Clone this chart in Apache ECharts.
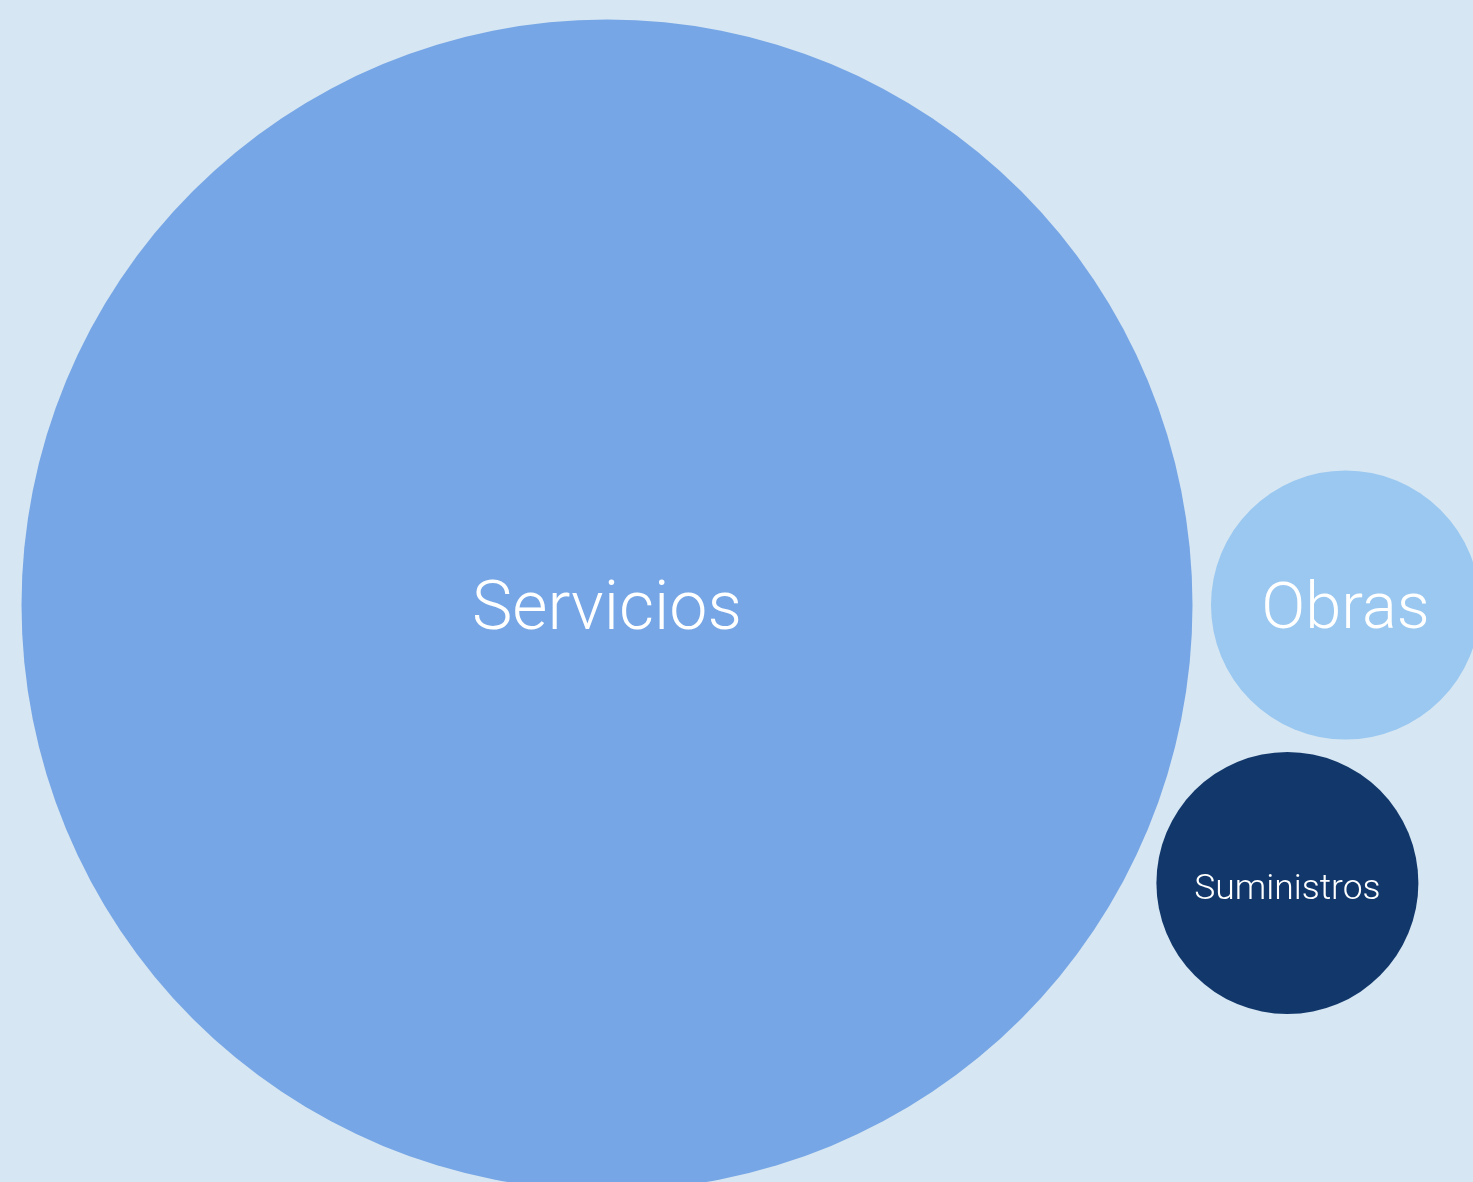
<!DOCTYPE html>
<html>
<head>
<meta charset="utf-8">
<style>
html,body{margin:0;padding:0;background:#d6e6f3;}
#chart{width:1473px;height:1182px;}
</style>
<script src="https://cdn.jsdelivr.net/npm/echarts@6/dist/echarts.min.js"></script>
</head>
<body>
<div id="chart"></div>
<script>
// Data
const categories = ['Servicios', 'Obras', 'Suministros'];
const values = [342.8, 18.09, 17.16];
const colors = ['#76a6e5', '#9ac8f0', '#12386b'];
const labelSizes = [68, 65, 35.5];

// Layout parameters (not data)
const PAD = 18.5;
const CENTER0 = [607, 605];
const K = 585.5 / Math.sqrt(values[0]);
const TEXT_DY = 7;

// Simple front-chain packing of three circles, computed from values
const radii = values.map(v => K * Math.sqrt(v));
function packPositions() {
  const [rA, rB, rC] = radii;
  const A = CENTER0.slice();
  const dAB = rA + rB + PAD;
  const B = [A[0] + dAB, A[1]];
  const dAC = rA + rC + PAD, dBC = rB + rC + PAD;
  const x = (dAB * dAB + dAC * dAC - dBC * dBC) / (2 * dAB);
  const y = Math.sqrt(Math.max(0, dAC * dAC - x * x));
  const C = [A[0] + x, A[1] + y];
  return [A, B, C];
}
const positions = packPositions();

const chart = echarts.init(document.getElementById('chart'), null, {renderer: 'canvas'});
chart.setOption({
  backgroundColor: '#d6e6f3',
  animation: false,
  series: [{
    type: 'custom',
    coordinateSystem: 'none',
    data: categories.map((c, i) => ({name: c, value: values[i]})),
    renderItem: function (params, api) {
      const i = params.dataIndex;
      const p = positions[i];
      const r = radii[i];
      return {
        type: 'group',
        children: [{
          type: 'circle',
          shape: {cx: p[0], cy: p[1], r: r},
          style: {fill: colors[i]}
        }, {
          type: 'text',
          x: p[0], y: p[1] + TEXT_DY,
          style: {
            text: categories[i],
            fill: '#ffffff',
            fontFamily: 'Roboto',
            fontWeight: 300,
            fontSize: labelSizes[i],
            align: 'center',
            verticalAlign: 'middle'
          }
        }]
      };
    }
  }]
});
</script>
</body>
</html>
